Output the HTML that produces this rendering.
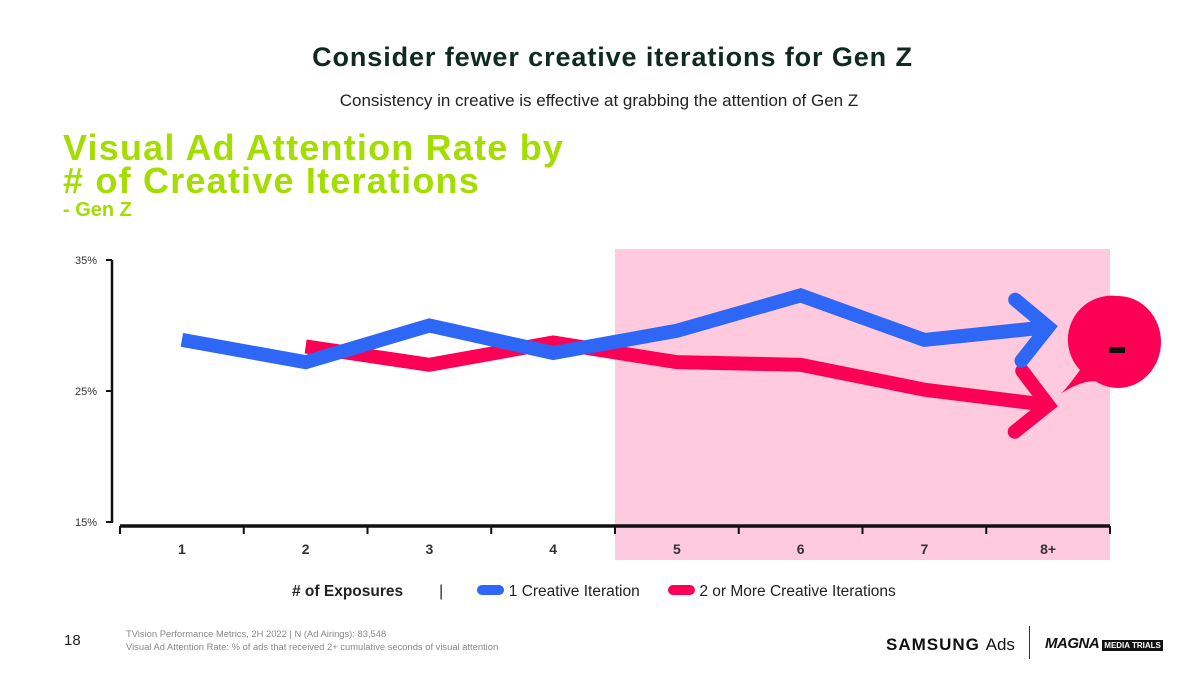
<!DOCTYPE html>
<html><head><meta charset="utf-8"><style>
body{margin:0;width:1200px;height:675px;background:#fff;font-family:"Liberation Sans",sans-serif;overflow:hidden;position:relative}
.t{position:absolute;white-space:nowrap}
</style></head><body>
<div class="t" style="left:0;width:1225px;text-align:center;top:42px;font-size:27px;font-weight:bold;color:#0f2a22;letter-spacing:0.9px">Consider fewer creative iterations for Gen Z</div>
<div class="t" style="left:0;width:1198px;text-align:center;top:91px;font-size:17px;color:#222">Consistency in creative is effective at grabbing the attention of Gen Z</div>
<div class="t" style="left:63px;top:131px;font-size:36px;line-height:33px;font-weight:bold;color:#a4dd00;letter-spacing:1.2px">Visual Ad Attention Rate by<br># of Creative Iterations</div>
<div class="t" style="left:63px;top:199px;font-size:20px;font-weight:bold;color:#a4dd00">- Gen Z</div>
<svg id="c" width="1200" height="675" style="position:absolute;left:0;top:0"></svg>
<div class="t" style="left:292px;top:583px;font-size:15.5px;color:#222">
<b>
# of Exposures</b><span style="margin-left:36px">|</span>
<span style="margin-left:30px"><span style="display:inline-block;width:27px;height:10px;border-radius:5px;background:#2e66f6;vertical-align:1px"></span> 1 Creative Iteration</span>
<span style="margin-left:24px"><span style="display:inline-block;width:27px;height:10px;border-radius:5px;background:#fb0055;vertical-align:1px"></span> 2 or More Creative Iterations</span>
</div>
<div class="t" style="left:64px;top:632px;font-size:15px;color:#222">18</div>
<div class="t" style="left:126px;top:627px;font-size:9.4px;line-height:13px;color:#888">TVision Performance Metrics, 2H 2022 | N (Ad Airings): 83,548<br>Visual Ad Attention Rate: % of ads that received 2+ cumulative seconds of visual attention</div>
<div class="t" style="left:886px;top:635px;font-size:17px;font-weight:bold;color:#111;letter-spacing:1px">SAMSUNG <span style="font-weight:normal;letter-spacing:0">Ads</span></div>
<div style="position:absolute;left:1029px;top:626px;width:1px;height:33px;background:#333"></div>
<div class="t" style="left:1045px;top:635px;font-size:15px;font-weight:bold;font-style:italic;color:#111;letter-spacing:-0.5px">MAGNA <span style="font-style:normal;font-size:8px;background:#111;color:#fff;padding:1px 2px;letter-spacing:0">MEDIA TRIALS</span></div>
<script>
const categories=["1","2","3","4","5","6","7","8+"];
const seriesOne=[28.9,27.2,30.0,27.9,29.6,32.3,28.9,29.9];
const seriesTwo=[null,28.4,27.0,28.7,27.2,27.0,25.1,23.9];
const yTicks=[15,25,35];
const NS="http://www.w3.org/2000/svg";
const svg=document.getElementById('c');
const x0=120,step=123.75;
const xc=i=>x0+step*(i+0.5);
const y=v=>522-(v-15)*13.1;
function el(t,a){const e=document.createElementNS(NS,t);for(const k in a)e.setAttribute(k,a[k]);svg.appendChild(e);return e;}
let r=el('rect',{x:615,y:249,width:495,height:311,fill:'#ffcade'});


let ya=el('line',{x1:112,y1:260,x2:112,y2:523,stroke:'#111','stroke-width':2.5});


yTicks.forEach(v=>{
 const tk=el('line',{x1:106,x2:112,y1:y(v),y2:y(v),stroke:'#111','stroke-width':2});
 
 
 const t=el('text',{x:97,y:y(v)+4,'text-anchor':'end','font-size':11,fill:'#333'});
 t.textContent=v+'%';
 
 
});
let xa=el('line',{x1:120,y1:526,x2:1110,y2:526,stroke:'#111','stroke-width':3.5});


for(let i=0;i<=categories.length;i++){
 const tk=el('line',{x1:x0+step*i,x2:x0+step*i,y1:526,y2:534,stroke:'#111','stroke-width':2});
 
 
}
categories.forEach((c,i)=>{
 const t=el('text',{x:xc(i),y:554,'text-anchor':'middle','font-size':14,'font-weight':'bold',fill:'#333'});
 t.textContent=c;
 
 
});
function series(vals,color,name){
 const pts=[];vals.forEach((v,i)=>{if(v!=null)pts.push([i===vals.length-1?xc(i)+3:xc(i),y(v)]);});
 const p=el('polyline',{points:pts.map(p=>p.join(',')).join(' '),fill:'none',stroke:color,'stroke-width':14,'stroke-linejoin':'miter'});
 
 
 const [tx,ty]=pts[pts.length-1],[px,py]=pts[pts.length-2];
 const a=Math.atan2(ty-py,tx-px);
 const L=45,s=0.75;
 const p1=[tx-L*Math.cos(a-s),ty-L*Math.sin(a-s)],p2=[tx-L*Math.cos(a+s),ty-L*Math.sin(a+s)];
 const h=el('polyline',{points:`${p1} ${tx-3*Math.cos(a)},${ty-3*Math.sin(a)} ${p2}`,fill:'none',stroke:color,'stroke-width':14,'stroke-linecap':'round'});
 
 
}
series(seriesTwo,'#fb0055','series-2-plus-creative');
series(seriesOne,'#2e66f6','series-1-creative');
const b=el('path',{d:'M1080,370 Q1064,392 1060,394 Q1085,378 1100,382 A44,44 0 1 0 1080,370 Z',fill:'#fb0055'});


const bb=el('ellipse',{cx:1118,cy:342,rx:43,ry:46,fill:'#fb0055'});


const m=el('rect',{x:1109,y:347,width:16,height:6,fill:'#111'});


</script>
</body></html>
